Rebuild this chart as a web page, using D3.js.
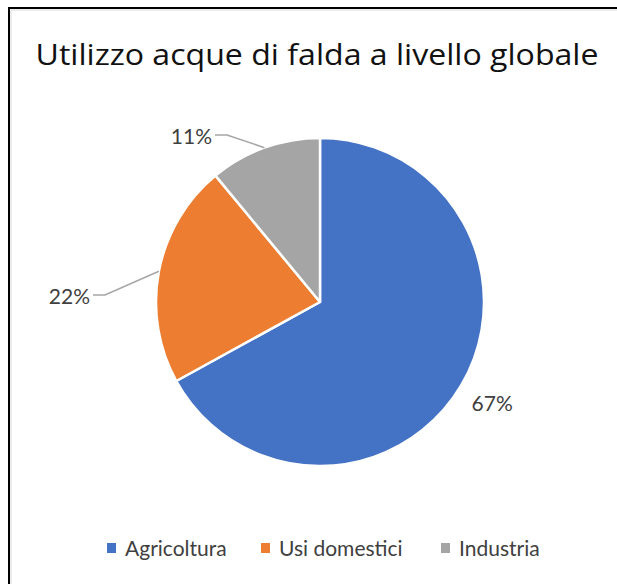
<!DOCTYPE html>
<html>
<head>
<meta charset="utf-8">
<script src="https://cdn.jsdelivr.net/npm/d3@7"></script>
<style>
  html, body { margin: 0; padding: 0; background: #fff; overflow: hidden; }
  svg { display: block; }
  text { font-family: Lato, "Open Sans", sans-serif; fill: #404040; }
</style>
</head>
<body>
<div id="chart"></div>
<script>
// Groundwater use worldwide - pie chart

const title = "Utilizzo acque di falda a livello globale";
const categories = ["Agricoltura", "Usi domestici", "Industria"];
const shares = [67, 22, 11];
const colors = ["#4472C4", "#ED7D31", "#A5A5A5"];

// Label placement (pixel offsets of the leader elbow from the pie centre)
const labelLayout = {
    "Agricoltura": null,
    "Usi domestici": {dx: -215, dy: -7},
    "Industria": {dx: -93, dy: -167}
};

const width = 617, height = 584;
const cx = 320, cy = 302, radius = 164;

const svg = d3.select("#chart")
    .append("svg")
    .attr("width", width)
    .attr("height", height);

svg.append("rect")
    .attr("width", width)
    .attr("height", height)
    .attr("fill", "#fff");

// Chart frame (only top and left edges visible in the crop)
svg.append("rect")
    .attr("x", 11)
    .attr("y", 10)
    .attr("width", 800)
    .attr("height", 800)
    .attr("fill", "none")
    .attr("stroke", "#d9d9d9")
    .attr("stroke-width", 1);

svg.append("rect")
    .attr("x", 9)
    .attr("y", 8)
    .attr("width", 800)
    .attr("height", 800)
    .attr("fill", "none")
    .attr("stroke", "#000")
    .attr("stroke-width", 2);

// Title
svg.append("text")
    .attr("x", 317)
    .attr("y", 65)
    .attr("text-anchor", "middle")
    .attr("textLength", 563)
    .attr("lengthAdjust", "spacingAndGlyphs")
    .style("font-family", "'Open Sans', sans-serif")
    .style("font-size", "29px")
    .style("fill", "#111")
    .text(title);

const data = categories.map((c, i) => ({name: c, value: shares[i], color: colors[i]}));

const pie = d3.pie()
    .sort(null)
    .value(d => d.value);

const arc = d3.arc()
    .innerRadius(0)
    .outerRadius(radius);

const edgeArc = d3.arc()
    .innerRadius(radius)
    .outerRadius(radius);

const labelArc = d3.arc()
    .innerRadius(radius * 1.22)
    .outerRadius(radius * 1.22);

const arcs = pie(data);

const g = svg.append("g")
    .attr("transform", `translate(${cx},${cy})`);

g.selectAll("path.slice")
    .data(arcs)
    .enter()
    .append("path")
    .attr("class", "slice")
    .attr("d", arc)
    .attr("fill", d => d.data.color)
    .attr("stroke", "#fff")
    .attr("stroke-width", 2.5)
    .attr("stroke-linejoin", "round");

// Data labels with leader lines
arcs.forEach(d => {
    const lay = labelLayout[d.data.name];
    const label = d.data.value + "%";
    if (!lay) {
        const [lx, ly] = labelArc.centroid(d);
        g.append("text")
            .attr("x", lx)
            .attr("y", ly + 7)
            .attr("text-anchor", "middle")
            .style("font-size", "21px")
            .text(label);
        return;
    }
    const [ex, ey] = edgeArc.centroid(d);
    g.append("polyline")
        .attr("points", [[ex, ey], [lay.dx, lay.dy], [lay.dx - 12, lay.dy]].map(p => p.join(",")).join(" "))
        .attr("fill", "none")
        .attr("stroke", "#A6A6A6")
        .attr("stroke-width", 1.5);
    g.append("text")
        .attr("x", lay.dx - 15)
        .attr("y", lay.dy + 1.5 + 7)
        .attr("text-anchor", "end")
        .style("font-size", "21px")
        .text(label);
});

// Legend
const legendX = [107, 261, 441];
const legend = svg.append("g");
data.forEach((d, i) => {
    legend.append("rect")
        .attr("x", legendX[i])
        .attr("y", 543)
        .attr("width", 9)
        .attr("height", 10)
        .attr("fill", d.color);
    legend.append("text")
        .attr("x", legendX[i] + 18)
        .attr("y", 556)
        .style("font-size", "21px")
        .text(d.name);
});
</script>
</body>
</html>
